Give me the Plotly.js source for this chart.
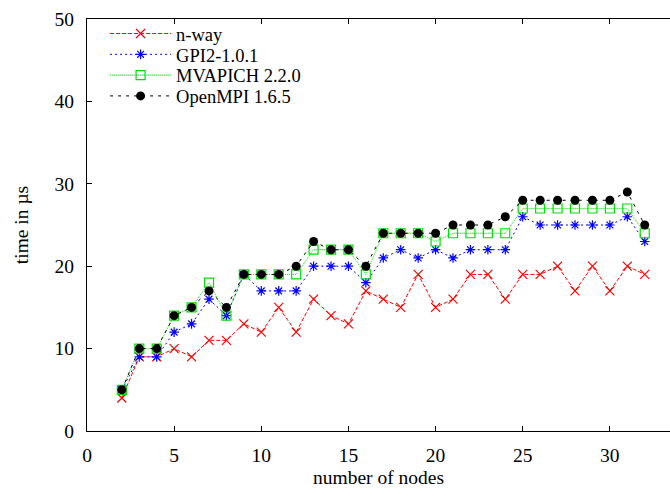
<!DOCTYPE html>
<html>
<head>
<meta charset="utf-8">
<script src="https://cdn.plot.ly/plotly-3.0.1.min.js"></script>
<style>html,body{margin:0;padding:0;background:#fff;}#chart{width:670px;height:488px;}</style>
</head>
<body>
<div id="chart"></div>
<script>
const nodes = [2,3,4,5,6,7,8,9,10,11,12,13,14,15,16,17,18,19,20,21,22,23,24,25,26,27,28,29,30,31,32];
const nway   = [4,9,9,10,9,11,11,13,12,15,12,16,14,13,17,16,15,19,15,16,19,19,16,19,19,20,17,20,17,20,19];
const gpi2   = [5,9,9,12,13,16,14,19,17,17,17,20,20,20,18,21,22,21,22,21,22,22,22,26,25,25,25,25,25,26,23];
const mvapich= [5,10,10,14,15,18,14,19,19,19,19,22,22,22,19,24,24,24,23,24,24,24,24,27,27,27,27,27,27,27,24];
const openmpi= [5,10,10,14,15,17,15,19,19,19,20,23,22,22,20,24,24,24,24,25,25,25,26,28,28,28,28,28,28,29,25];
const seriesNames = ['n-way','GPI2-1.0.1','MVAPICH 2.2.0','OpenMPI 1.6.5'];
const xTicks = [0,5,10,15,20,25,30];
const yTicks = [0,10,20,30,40,50];

const traces = [
  {x: nodes, y: nway, name: seriesNames[0], mode: 'lines+markers', legend: 'legend',
   line: {color: '#ff0000', width: 1, dash: '4px,2px'},
   marker: {symbol: 'x-thin-open', size: 9, color: '#ff0000', line: {color: '#ff0000', width: 1.2}}},
  {x: nodes, y: gpi2, name: seriesNames[1], mode: 'lines+markers', legend: 'legend2',
   line: {color: '#0000ff', width: 1, dash: '2px,3px'},
   marker: {symbol: 'asterisk-open', size: 8, color: '#0000ff', line: {color: '#0000ff', width: 1.2}}},
  {x: nodes, y: mvapich, name: seriesNames[2], mode: 'lines+markers', legend: 'legend3',
   line: {color: '#00e000', width: 1, dash: '1px,1px'},
   marker: {symbol: 'square-open', size: 9, color: '#00e000', line: {color: '#00e000', width: 1.2}}},
  {x: nodes, y: openmpi, name: seriesNames[3], mode: 'lines+markers', legend: 'legend4',
   line: {color: '#000000', width: 1, dash: '3px,5px'},
   marker: {symbol: 'circle', size: 9, color: '#000000'}}
];

const font = {family: '"Liberation Serif", "Times New Roman", serif', size: 19.5, color: '#000'};
const legFont = {family: font.family, size: 18.5, color: '#000'};
function leg(y) {
  return {x: 0.031, y: y, xanchor: 'left', yanchor: 'middle', bgcolor: 'rgba(0,0,0,0)',
          font: legFont, itemwidth: 61, borderwidth: 0};
}

const layout = {
  width: 670, height: 488,
  margin: {l: 87, r: 0, t: 18.5, b: 57.3, pad: 0},
  paper_bgcolor: '#fff', plot_bgcolor: '#fff',
  font: font,
  showlegend: true,
  legend: leg(0.9636),
  legend2: leg(0.9131),
  legend3: leg(0.8627),
  legend4: leg(0.8122),
  xaxis: {range: [0, 33.45], tickvals: xTicks, ticktext: xTicks.map(String),
          ticks: 'inside', ticklen: 5, tickcolor: '#000', showgrid: false, zeroline: false,
          showline: true, linecolor: '#000', linewidth: 1.2, mirror: 'ticks',
          ticklabelstandoff: 6,
          title: {text: 'number of nodes', font: font, standoff: 8}},
  yaxis: {range: [0, 50], tickvals: yTicks, ticktext: yTicks.map(String),
          ticks: 'inside', ticklen: 5, tickcolor: '#000', showgrid: false, zeroline: false,
          showline: true, linecolor: '#000', linewidth: 1.2,
          ticklabelstandoff: 8,
          title: {text: 'time in µs', font: font, standoff: 20}}
};

Plotly.newPlot('chart', traces, layout, {staticPlot: true, displayModeBar: false});
</script>
</body>
</html>
